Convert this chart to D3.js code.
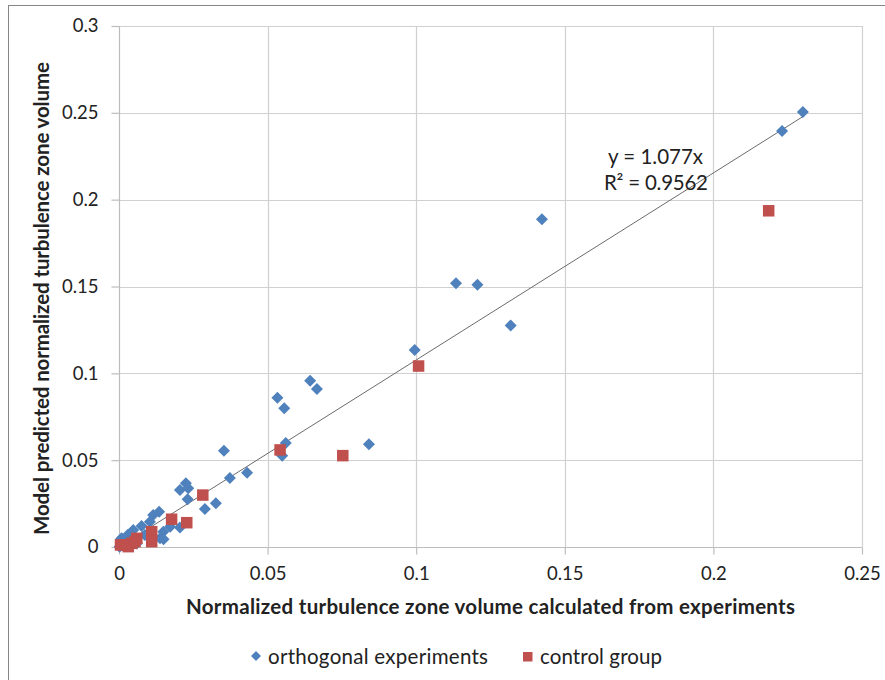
<!DOCTYPE html>
<html>
<head>
<meta charset="utf-8">
<script src="https://cdn.jsdelivr.net/npm/d3@7/dist/d3.min.js"></script>
<style>
  html, body { margin: 0; padding: 0; background: #fff; }
  svg { display: block; }
  text { font-family: Lato, "Open Sans", "Liberation Sans", sans-serif; fill: #222; }
</style>
</head>
<body>
<script>
// Orthogonal experiments: [measured, predicted]
const orthoX = [0.2301, 0.2231, 0.1423, 0.1134, 0.1206, 0.1318, 0.0995, 0.0841, 0.0643, 0.0666,
  0.0533, 0.0556, 0.0561, 0.0549, 0.0353, 0.0431, 0.0373, 0.0225, 0.0205, 0.0233,
  0.0231, 0.0289, 0.0326, 0.0135, 0.0104, 0.0076, 0.0172, 0.0205, 0.0138, 0.0037,
  0.0006, 0.0115, 0.0048, 0.0029, 0.0009, 0.0002, 0.0087, 0.0149, 0.0150, 0.0060];
const orthoY = [0.2505, 0.2395, 0.1887, 0.1518, 0.1510, 0.1276, 0.1135, 0.0591, 0.0958, 0.0910,
  0.0860, 0.0799, 0.0599, 0.0526, 0.0554, 0.0428, 0.0397, 0.0367, 0.0328, 0.0338,
  0.0275, 0.0219, 0.0252, 0.0203, 0.0146, 0.0121, 0.0117, 0.0113, 0.0050, 0.0073,
  0.0044, 0.0184, 0.0098, 0.0069, 0.0050, 0.0002, 0.0069, 0.0088, 0.0045, 0.0020];

// Control group: [measured, predicted]
const controlX = [0.2186, 0.1008, 0.0542, 0.0753, 0.0282, 0.0177, 0.0228, 0.0110, 0.0110,
  0.0060, 0.0043, 0.0014, 0.0005, 0.0031, 0.0054];
const controlY = [0.1936, 0.1042, 0.0559, 0.0526, 0.0299, 0.0160, 0.0140, 0.0088, 0.0031,
  0.0050, 0.0021, 0.0012, 0.0012, 0.0002, 0.0031];

const xTicks = [0, 0.05, 0.1, 0.15, 0.2, 0.25];
const yTicks = [0, 0.05, 0.1, 0.15, 0.2, 0.25, 0.3];
const trendSlope = 1.077;
const trendR2 = 0.9562;
const seriesNames = ["orthogonal experiments", "control group"];

const W = 885, H = 680;
const svg = d3.select("body").append("svg").attr("width", W).attr("height", H);

// chart area frame
svg.append("rect").attr("x", 8.5).attr("y", 5.5).attr("width", 900).attr("height", 700)
  .attr("fill", "#fff").attr("stroke", "#868686").attr("stroke-width", 1);

const plot = { left: 119, right: 862, top: 26, bottom: 547 };
const x = d3.scaleLinear().domain([0, 0.25]).range([plot.left, plot.right]);
const y = d3.scaleLinear().domain([0, 0.3]).range([plot.bottom, plot.top]);

const fmt = d => String(+d.toFixed(3));

// gridlines
const grid = svg.append("g");
grid.selectAll("line.gx").data(xTicks.slice(1)).join("line")
  .attr("x1", d => Math.round(x(d)) + 0.5).attr("x2", d => Math.round(x(d)) + 0.5)
  .attr("y1", plot.top).attr("y2", plot.bottom)
  .attr("stroke", "#d0d0d0").attr("stroke-width", 1.2);
grid.selectAll("line.gy").data(yTicks.slice(1)).join("line")
  .attr("y1", d => Math.round(y(d)) + 0.5).attr("y2", d => Math.round(y(d)) + 0.5)
  .attr("x1", plot.left).attr("x2", plot.right)
  .attr("stroke", "#d0d0d0").attr("stroke-width", 1.2);

// axes
const xAxis = d3.axisBottom(x).tickValues(xTicks).tickFormat(fmt).tickSize(7).tickPadding(12);
const yAxis = d3.axisLeft(y).tickValues(yTicks).tickFormat(fmt).tickSize(8).tickPadding(13);

const gx = svg.append("g").attr("transform", `translate(0,${plot.bottom + 0.5})`).call(xAxis);
const gy = svg.append("g").attr("transform", `translate(${plot.left + 0.5},0)`).call(yAxis);
[gx, gy].forEach(g => {
  g.select(".domain").attr("stroke", "#bdbdbd").attr("stroke-width", 1.2);
  g.selectAll(".tick line").attr("stroke", "#bdbdbd").attr("stroke-width", 1.2);
  g.selectAll(".tick text").attr("font-size", 18.5).attr("fill", "#222")
    .style("font-family", "Lato, 'Open Sans', sans-serif");
});
gx.select(".domain").attr("d", `M${plot.left},0H${plot.right}`);
gy.select(".domain").attr("d", `M0,${plot.top}V${plot.bottom}`);

// trendline through origin
const maxX = d3.max(orthoX.concat(controlX));
svg.append("line")
  .attr("x1", x(0)).attr("y1", y(0))
  .attr("x2", x(maxX)).attr("y2", y(trendSlope * maxX))
  .attr("stroke", "#6b6b6b").attr("stroke-width", 1);

// diamonds
const dSize = 6;
const diamond = (cx, cy) => `M${cx},${cy - dSize}L${cx + dSize},${cy}L${cx},${cy + dSize}L${cx - dSize},${cy}Z`;
svg.append("g").selectAll("path").data(d3.range(orthoX.length)).join("path")
  .attr("d", i => diamond(x(orthoX[i]), y(orthoY[i])))
  .attr("fill", "#4F81BD");

// squares
const s = 11.5;
svg.append("g").selectAll("rect").data(d3.range(controlX.length)).join("rect")
  .attr("x", i => x(controlX[i]) - s / 2).attr("y", i => y(controlY[i]) - s / 2)
  .attr("width", s).attr("height", s)
  .attr("fill", "#C0504D");

// equation label
const eq = svg.append("text").attr("font-size", 20.5);
eq.append("tspan").attr("x", 608).attr("y", 164).attr("textLength", 95).text(`y = ${trendSlope}x`);
eq.append("tspan").attr("x", 604).attr("y", 190).attr("textLength", 104).text(`R² = ${trendR2}`);

// axis titles
svg.append("text").attr("x", 186).attr("y", 614)
  .attr("font-size", 20.5).attr("font-weight", "bold").attr("textLength", 609)
  .text("Normalized turbulence zone volume calculated from experiments");
svg.append("text").attr("transform", "translate(49,535) rotate(-90)")
  .attr("font-size", 20.5).attr("font-weight", "bold").attr("textLength", 473)
  .text("Model predicted normalized turbulence zone volume");

// legend
const lg = svg.append("g");
lg.append("path").attr("d", "M256,651L261,656L256,661L251,656Z").attr("fill", "#4F81BD");
lg.append("text").attr("x", 268).attr("y", 664).attr("font-size", 20.5).attr("textLength", 220).text(seriesNames[0]);
lg.append("rect").attr("x", 523).attr("y", 652).attr("width", 9.5).attr("height", 9.5).attr("fill", "#C0504D");
lg.append("text").attr("x", 540).attr("y", 664).attr("font-size", 20.5).attr("textLength", 122).text(seriesNames[1]);
</script>
</body>
</html>
